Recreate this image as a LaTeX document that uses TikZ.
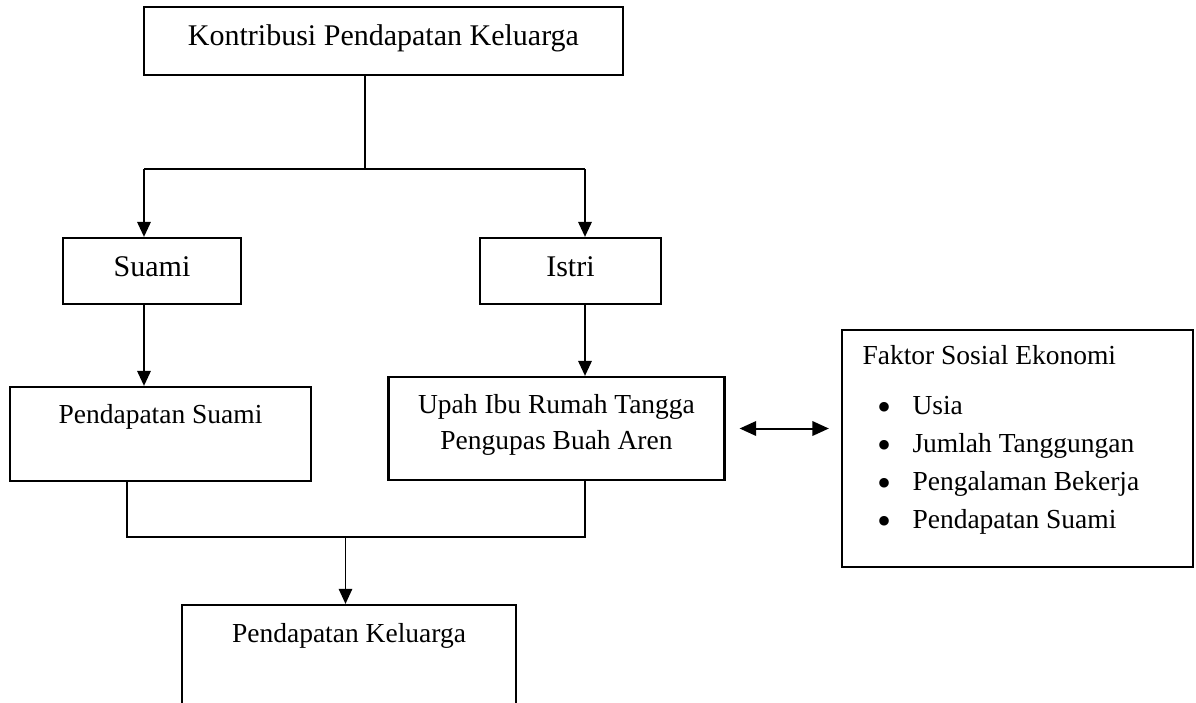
\documentclass[tikz,border=0pt]{standalone}
\usepackage{fontspec}
\setmainfont{Liberation Serif}
\usetikzlibrary{arrows.meta,positioning}
\tikzset{
	box/.style={draw, line width=.9pt, inner sep=0pt},
	txt/.style={anchor=base, inner sep=0pt, font=\fontsize{11}{13}\selectfont},
	bigtxt/.style={txt, font=\fontsize{12}{14}\selectfont},
	link/.style={line width=.7pt},
	thinlink/.style={line width=.5pt},
	arr/.style={link, -{Triangle[length=6pt,width=5.4pt]}},
	dblarr/.style={line width=.8pt, {Triangle[length=6.6pt,width=5.8pt]}-{Triangle[length=6.6pt,width=5.8pt]}},
}

\begin{document}
\begin{tikzpicture}[x=.4pt,y=-.4pt]
	\useasboundingbox (0,0) rectangle (1196,702);
	% boxes
	\node[box, minimum width=191.6pt, minimum height=27.2pt] (top) at (383.5,41){};
	\node[box, minimum width=71.2pt, minimum height=26.4pt] (suami) at (152,271){};
	\node[box, minimum width=72.4pt, minimum height=26.4pt] (istri) at (570.5,271){};
	\node[box, minimum width=120.4pt, minimum height=37.6pt] (psuami) at (160.5,434){};
	\node[box, minimum width=134.4pt, minimum height=41.2pt] (upah) at (556.5,428.5){};
	\node[box, minimum width=140.4pt, minimum height=94.8pt] (faktor) at (1017.5,448.5){};
	\node[box, minimum width=133.8pt, minimum height=56pt] (pkel) at (349,675){};
	% texts
	\node[bigtxt] (toptxt) at (383.5,45){Kontribusi Pendapatan Keluarga};
	\node[bigtxt] (suamitxt) at (152,276){Suami};
	\node[bigtxt] (istritxt) at (570.5,276){Istri};
	\node[txt] (psuamitxt) at (160.5,423){Pendapatan Suami};
	\node[txt] (upahtxt) at (556.5,413){Upah Ibu Rumah Tangga};
	\node[txt] (arentxt) at (556.5,449){Pengupas Buah Aren};
	\node[txt] (pkeltxt) at (349,642){Pendapatan Keluarga};
	\node[txt, anchor=base west] (faktortxt) at (862,364){Faktor Sosial Ekonomi};
	\foreach \fname [count=\i] in {Usia, Jumlah Tanggungan, Pengalaman Bekerja, Pendapatan Suami}{
		\node[txt, font=\fontsize{16}{16}\selectfont] (dot\i) at (884,382+38*\i){\textbullet};
		\node[txt, anchor=base west] (fak\i) at (912,376+38*\i){\fname};
	}
	% connectors
	\coordinate (split) at (365,169);
	\coordinate (lbr) at (144,169);
	\coordinate (rbr) at (585,169);
	\draw [link] (top.south -| split) -- (split);
	\draw [link] (lbr) -- (rbr);
	\draw [arr] (lbr) -- (lbr |- suami.north);
	\draw [arr] (rbr) -- (rbr |- istri.north);
	\draw [arr] (lbr |- suami.south) -- (lbr |- psuami.north);
	\draw [arr] (rbr |- istri.south) -- (rbr |- upah.north);
	\coordinate (ljoin) at (127,537);
	\coordinate (rjoin) at (585,537);
	\coordinate (mjoin) at (345.5,537);
	\draw [thinlink] (ljoin |- psuami.south) -- (ljoin) -- (rjoin) -- (rjoin |- upah.south);
	\draw [arr, thinlink] (mjoin) -- (mjoin |- pkel.north);
	\draw [dblarr, shorten <=5.6pt, shorten >=4.8pt] (upah.east) -- (upah.east -| faktor.west);
\end{tikzpicture}
\end{document}
